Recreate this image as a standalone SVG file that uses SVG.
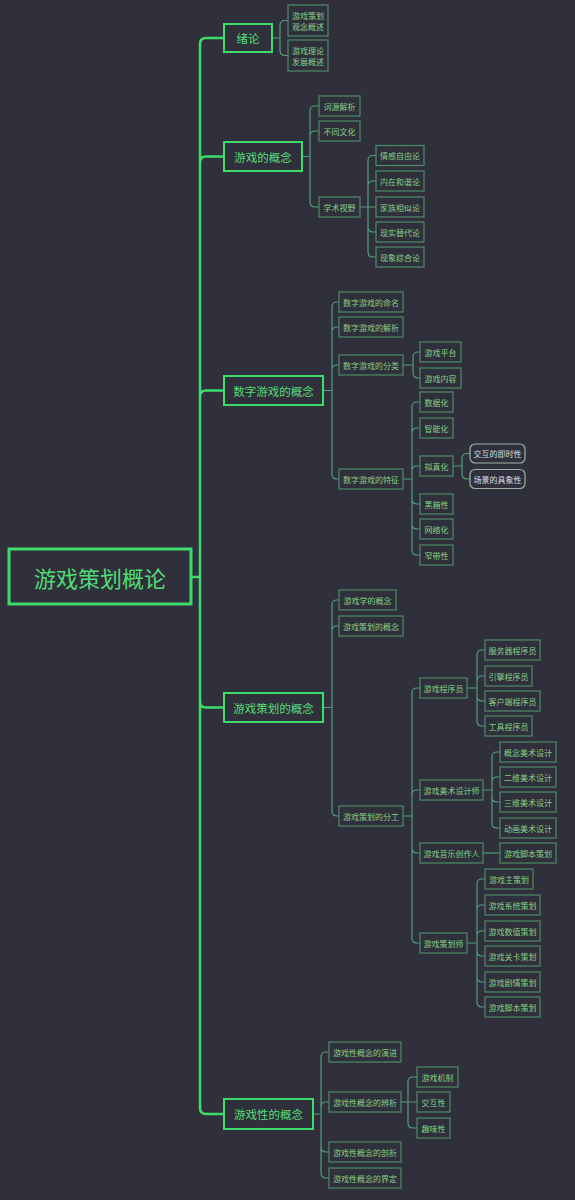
<svg xmlns="http://www.w3.org/2000/svg" width="575" height="1200" viewBox="0 0 575 1200">
<style>
.bg{fill:#2f303b}
.b0{fill:#2f303b;stroke:#3ddc6b;stroke-width:3}
.b1{fill:#2f303b;stroke:#3ddc6b;stroke-width:2}
.b2{fill:#2f303b;stroke:#4f8a66;stroke-width:1.2}
.b3{fill:#2f303b;stroke:#9fb2a6;stroke-width:1.2}
text{font-family:"Noto Sans CJK SC","Noto Sans",sans-serif;text-anchor:middle;dominant-baseline:central}
.t0{fill:#4fdc74;font-size:22px}
.t1{fill:#55dd77;font-size:11.5px}
.t2{fill:#86cf86;font-size:8px}
.t3{fill:#dcdce4;font-size:8px}
.trunk{fill:none;stroke:#3ddc6b;stroke-width:2.5}
.br{fill:none;stroke:#529c7c;stroke-width:1.2}
</style>
<rect class="bg" x="0" y="0" width="575" height="1200"/>
<g id="connectors">
<path class="trunk" d="M191 577 H200 M200 577 V44 Q200 38 206 38 H224 M200 577 V162.5 Q200 156.5 206 156.5 H224 M200 577 V396.5 Q200 390.5 206 390.5 H224 M200 577 V701.5 Q200 707.5 206 707.5 H224 M200 577 V1108 Q200 1114 206 1114 H224"/>
<path class="br" d="M272 38 H280 M280 38 V25.5 Q280 20.5 285 20.5 H288 M280 38 V50.5 Q280 55.5 285 55.5 H288"/>
<path class="br" d="M302 156.5 H310 M310 156.5 V111 Q310 106 315 106 H319 M310 156.5 V136 Q310 131 315 131 H319 M310 156.5 V202 Q310 207 315 207 H319"/>
<path class="br" d="M360 207 H376 M368 207 V160.5 Q368 155.5 373 155.5 H376 M368 207 V186 Q368 181 373 181 H376 M368 207 V227 Q368 232 373 232 H376 M368 207 V252 Q368 257 373 257 H376"/>
<path class="br" d="M323 390.5 H332 M332 390.5 V307 Q332 302 337 302 H339 M332 390.5 V332 Q332 327 337 327 H339 M332 390.5 V370 Q332 365 337 365 H339 M332 390.5 V474 Q332 479 337 479 H339"/>
<path class="br" d="M403 365 H413 M413 365 V357 Q413 352 418 352 H420 M413 365 V373 Q413 378 418 378 H420"/>
<path class="br" d="M403 479 H412 M412 479 V407 Q412 402 417 402 H420 M412 479 V433 Q412 428 417 428 H420 M412 479 V471 Q412 466 417 466 H420 M412 479 V499 Q412 504 417 504 H420 M412 479 V524 Q412 529 417 529 H420 M412 479 V550 Q412 555 417 555 H420"/>
<path class="br" d="M453 466 H462 M462 466 V458.5 Q462 453.5 467 453.5 H470 M462 466 V474 Q462 479 467 479 H470"/>
<path class="br" d="M323 707.5 H332 M332 707.5 V605 Q332 600 337 600 H339 M332 707.5 V631 Q332 626 337 626 H339 M332 707.5 V811 Q332 816 337 816 H339"/>
<path class="br" d="M403 816 H412 M412 816 V693 Q412 688 417 688 H420 M412 816 V795 Q412 790 417 790 H420 M412 816 V848 Q412 853 417 853 H420 M412 816 V938 Q412 943 417 943 H420"/>
<path class="br" d="M467 688 H477 M477 688 V655 Q477 650 482 650 H485 M477 688 V681 Q477 676 482 676 H485 M477 688 V696 Q477 701 482 701 H485 M477 688 V721 Q477 726 482 726 H485"/>
<path class="br" d="M483 790 H492 M492 790 V757 Q492 752 497 752 H500 M492 790 V782 Q492 777 497 777 H500 M492 790 V797 Q492 802 497 802 H500 M492 790 V823 Q492 828 497 828 H500"/>
<path class="br" d="M483 853 H500"/>
<path class="br" d="M467 943 H477 M477 943 V884 Q477 879 482 879 H485 M477 943 V910 Q477 905 482 905 H485 M477 943 V936 Q477 931 482 931 H485 M477 943 V951 Q477 956 482 956 H485 M477 943 V977 Q477 982 482 982 H485 M477 943 V1002 Q477 1007 482 1007 H485"/>
<path class="br" d="M313 1114 H321 M321 1114 V1057 Q321 1052 326 1052 H329 M321 1114 V1107 Q321 1102 326 1102 H329 M321 1114 V1147 Q321 1152 326 1152 H329 M321 1114 V1173 Q321 1178 326 1178 H329"/>
<path class="br" d="M401 1102 H417 M408 1102 V1082 Q408 1077 413 1077 H417 M408 1102 V1123 Q408 1128 413 1128 H417"/>
</g>
<g id="root"><rect class="b0" x="9" y="549" width="182" height="55"/><text class="t0" x="100" y="577">游戏策划概论</text></g>
<g id="n1"><rect class="b1" x="224" y="24" width="48" height="28"/><text class="t1" x="248" y="38">绪论</text></g>
<g id="n1a"><rect class="b2" x="288" y="5" width="40" height="31"/><text class="t2" x="308" y="15.5">游戏策划</text><text class="t2" x="308" y="26">观念概述</text></g>
<g id="n1b"><rect class="b2" x="288" y="40" width="40" height="31"/><text class="t2" x="308" y="50.5">游戏理论</text><text class="t2" x="308" y="61">发展概述</text></g>
<g id="n2"><rect class="b1" x="224" y="142" width="78" height="29"/><text class="t1" x="263" y="156.5">游戏的概念</text></g>
<g id="n2a"><rect class="b2" x="319" y="96" width="41" height="20"/><text class="t2" x="339.5" y="106">词源解析</text></g>
<g id="n2b"><rect class="b2" x="319" y="121" width="41" height="20"/><text class="t2" x="339.5" y="131">不同文化</text></g>
<g id="n2c"><rect class="b2" x="319" y="197" width="41" height="20"/><text class="t2" x="339.5" y="207">学术视野</text></g>
<g id="n2c1"><rect class="b2" x="376" y="145.5" width="48" height="20"/><text class="t2" x="400" y="155.5">情感自由论</text></g>
<g id="n2c2"><rect class="b2" x="376" y="171" width="48" height="20"/><text class="t2" x="400" y="181">内在和谐论</text></g>
<g id="n2c3"><rect class="b2" x="376" y="197" width="48" height="20"/><text class="t2" x="400" y="207">家族相似论</text></g>
<g id="n2c4"><rect class="b2" x="376" y="222" width="48" height="20"/><text class="t2" x="400" y="232">现实替代论</text></g>
<g id="n2c5"><rect class="b2" x="376" y="247" width="48" height="20"/><text class="t2" x="400" y="257">现象综合论</text></g>
<g id="n3"><rect class="b1" x="224" y="376" width="99" height="29"/><text class="t1" x="273.5" y="390.5">数字游戏的概念</text></g>
<g id="n3a"><rect class="b2" x="339" y="292" width="64" height="20"/><text class="t2" x="371" y="302">数字游戏的命名</text></g>
<g id="n3b"><rect class="b2" x="339" y="317" width="64" height="20"/><text class="t2" x="371" y="327">数字游戏的解析</text></g>
<g id="n3c"><rect class="b2" x="339" y="355" width="64" height="20"/><text class="t2" x="371" y="365">数字游戏的分类</text></g>
<g id="n3c1"><rect class="b2" x="420" y="342" width="41" height="20"/><text class="t2" x="440.5" y="352">游戏平台</text></g>
<g id="n3c2"><rect class="b2" x="420" y="368" width="41" height="20"/><text class="t2" x="440.5" y="378">游戏内容</text></g>
<g id="n3d"><rect class="b2" x="339" y="469" width="64" height="20"/><text class="t2" x="371" y="479">数字游戏的特征</text></g>
<g id="n3d1"><rect class="b2" x="420" y="392" width="33" height="20"/><text class="t2" x="436.5" y="402">数据化</text></g>
<g id="n3d2"><rect class="b2" x="420" y="418" width="33" height="20"/><text class="t2" x="436.5" y="428">智能化</text></g>
<g id="n3d3"><rect class="b2" x="420" y="456" width="33" height="20"/><text class="t2" x="436.5" y="466">拟真化</text></g>
<g id="n3d3a"><rect class="b3" x="470" y="444" width="55" height="19" rx="5"/><text class="t3" x="497.5" y="453.5">交互的即时性</text></g>
<g id="n3d3b"><rect class="b3" x="470" y="469.5" width="55" height="19" rx="5"/><text class="t3" x="497.5" y="479">场景的具象性</text></g>
<g id="n3d4"><rect class="b2" x="420" y="494" width="33" height="20"/><text class="t2" x="436.5" y="504">黑箱性</text></g>
<g id="n3d5"><rect class="b2" x="420" y="519" width="33" height="20"/><text class="t2" x="436.5" y="529">网络化</text></g>
<g id="n3d6"><rect class="b2" x="420" y="545" width="33" height="20"/><text class="t2" x="436.5" y="555">窄带性</text></g>
<g id="n4"><rect class="b1" x="224" y="693" width="99" height="29"/><text class="t1" x="273.5" y="707.5">游戏策划的概念</text></g>
<g id="n4a"><rect class="b2" x="339" y="590" width="57" height="20"/><text class="t2" x="367.5" y="600">游戏学的概念</text></g>
<g id="n4b"><rect class="b2" x="339" y="616" width="64" height="20"/><text class="t2" x="371" y="626">游戏策划的概念</text></g>
<g id="n4c"><rect class="b2" x="339" y="806" width="64" height="20"/><text class="t2" x="371" y="816">游戏策划的分工</text></g>
<g id="n4c1"><rect class="b2" x="420" y="678" width="47" height="20"/><text class="t2" x="443.5" y="688">游戏程序员</text></g>
<g id="n4c1a"><rect class="b2" x="485" y="640" width="55" height="20"/><text class="t2" x="512.5" y="650">服务器程序员</text></g>
<g id="n4c1b"><rect class="b2" x="485" y="666" width="47" height="20"/><text class="t2" x="508.5" y="676">引擎程序员</text></g>
<g id="n4c1c"><rect class="b2" x="485" y="691" width="55" height="20"/><text class="t2" x="512.5" y="701">客户端程序员</text></g>
<g id="n4c1d"><rect class="b2" x="485" y="716" width="47" height="20"/><text class="t2" x="508.5" y="726">工具程序员</text></g>
<g id="n4c2"><rect class="b2" x="420" y="780" width="63" height="20"/><text class="t2" x="451.5" y="790">游戏美术设计师</text></g>
<g id="n4c2a"><rect class="b2" x="500" y="742" width="56" height="20"/><text class="t2" x="528" y="752">概念美术设计</text></g>
<g id="n4c2b"><rect class="b2" x="500" y="767" width="56" height="20"/><text class="t2" x="528" y="777">二维美术设计</text></g>
<g id="n4c2c"><rect class="b2" x="500" y="792" width="56" height="20"/><text class="t2" x="528" y="802">三维美术设计</text></g>
<g id="n4c2d"><rect class="b2" x="500" y="818" width="56" height="20"/><text class="t2" x="528" y="828">动画美术设计</text></g>
<g id="n4c3"><rect class="b2" x="420" y="843" width="63" height="20"/><text class="t2" x="451.5" y="853">游戏音乐创作人</text></g>
<g id="n4c3a"><rect class="b2" x="500" y="843" width="56" height="20"/><text class="t2" x="528" y="853">游戏脚本策划</text></g>
<g id="n4c4"><rect class="b2" x="420" y="933" width="47" height="20"/><text class="t2" x="443.5" y="943">游戏策划师</text></g>
<g id="n4c4a"><rect class="b2" x="485" y="869" width="48" height="20"/><text class="t2" x="509" y="879">游戏主策划</text></g>
<g id="n4c4b"><rect class="b2" x="485" y="895" width="55" height="20"/><text class="t2" x="512.5" y="905">游戏系统策划</text></g>
<g id="n4c4c"><rect class="b2" x="485" y="921" width="55" height="20"/><text class="t2" x="512.5" y="931">游戏数值策划</text></g>
<g id="n4c4d"><rect class="b2" x="485" y="946" width="55" height="20"/><text class="t2" x="512.5" y="956">游戏关卡策划</text></g>
<g id="n4c4e"><rect class="b2" x="485" y="972" width="55" height="20"/><text class="t2" x="512.5" y="982">游戏剧情策划</text></g>
<g id="n4c4f"><rect class="b2" x="485" y="997" width="55" height="20"/><text class="t2" x="512.5" y="1007">游戏脚本策划</text></g>
<g id="n5"><rect class="b1" x="224" y="1099" width="89" height="30"/><text class="t1" x="268.5" y="1114">游戏性的概念</text></g>
<g id="n5a"><rect class="b2" x="329" y="1042" width="72" height="20"/><text class="t2" x="365" y="1052">游戏性概念的演进</text></g>
<g id="n5b"><rect class="b2" x="329" y="1092" width="72" height="20"/><text class="t2" x="365" y="1102">游戏性概念的辨析</text></g>
<g id="n5b1"><rect class="b2" x="417" y="1067" width="41" height="20"/><text class="t2" x="437.5" y="1077">游戏机制</text></g>
<g id="n5b2"><rect class="b2" x="417" y="1092" width="33" height="20"/><text class="t2" x="433.5" y="1102">交互性</text></g>
<g id="n5b3"><rect class="b2" x="417" y="1118" width="33" height="20"/><text class="t2" x="433.5" y="1128">趣味性</text></g>
<g id="n5c"><rect class="b2" x="329" y="1142" width="72" height="20"/><text class="t2" x="365" y="1152">游戏性概念的剖析</text></g>
<g id="n5d"><rect class="b2" x="329" y="1168" width="72" height="20"/><text class="t2" x="365" y="1178">游戏性概念的界定</text></g>
</svg>
